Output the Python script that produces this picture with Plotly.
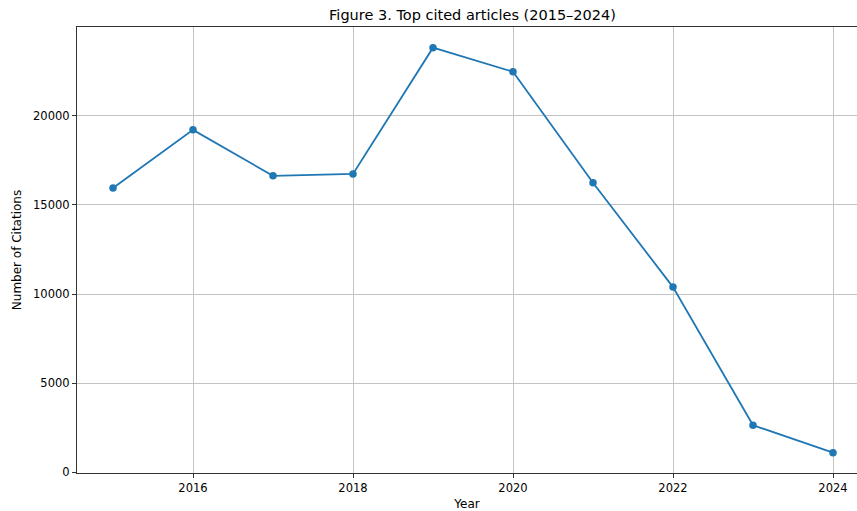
import plotly.graph_objects as go

years = [2015, 2016, 2017, 2018, 2019, 2020, 2021, 2022, 2023, 2024]
citations = [15950, 19210, 16630, 16740, 23820, 22470, 16240, 10390, 2640, 1100]
x_ticks = [2016, 2018, 2020, 2022, 2024]
y_ticks = [0, 5000, 10000, 15000, 20000]

fig = go.Figure()
fig.add_trace(go.Scatter(
    x=years, y=citations, mode="lines+markers",
    line=dict(color="#1f77b4", width=1.8),
    marker=dict(color="#1f77b4", size=7.5),
    showlegend=False,
))

font_family = "DejaVu Sans"
fig.update_layout(
    width=857, height=511,
    margin=dict(l=77, r=0, t=27, b=38),
    paper_bgcolor="white", plot_bgcolor="white",
    font=dict(family=font_family, size=12, color="black"),
    title=dict(text="Figure 3. Top cited articles (2015–2024)", x=472.5 / 857, xref="container",
               xanchor="center", y=1 - 15 / 511, yref="container", yanchor="middle",
               font=dict(size=14.5, color="black")),
)
fig.update_xaxes(
    range=[2014.55, 2024.3], tickvals=x_ticks, ticktext=[str(v) for v in x_ticks],
    showgrid=True, gridcolor="#c4c4c4", gridwidth=1,
    showline=True, linecolor="#333333", linewidth=1.2, mirror=True,
    ticks="outside", ticklen=4, tickcolor="#333333", zeroline=False,
    tickfont=dict(size=11.5),
    title=dict(text="Year", standoff=5, font=dict(size=12)),
)
fig.update_yaxes(
    range=[-40, 24980], tickvals=y_ticks, ticktext=[str(v) for v in y_ticks],
    showgrid=True, gridcolor="#c4c4c4", gridwidth=1,
    showline=True, linecolor="#333333", linewidth=1.2, mirror=False,
    ticks="outside", ticklen=4, tickcolor="#333333", zeroline=False,
    tickfont=dict(size=11.5),
    title=dict(text="Number of Citations", standoff=8, font=dict(size=12)),
)
fig.write_html(
    "out.html",
    config={"displayModeBar": False},
    post_script="document.body.style.margin='0';document.body.style.overflow='hidden';",
)
